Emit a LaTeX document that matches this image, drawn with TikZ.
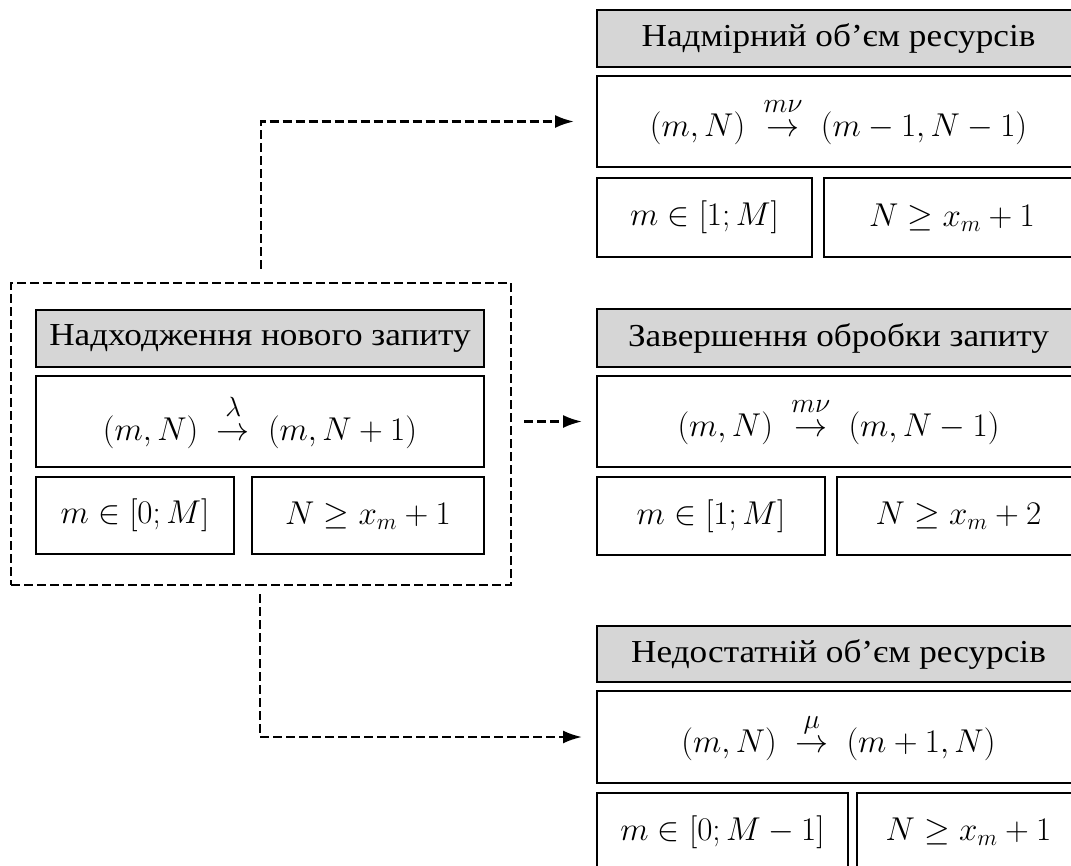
\RequirePackage{fix-cm}
\documentclass[tikz,border=0pt]{standalone}
\usepackage{amsmath}
\usepackage{graphicx}
\usepackage{fontspec}
\setmainfont{Liberation Serif}[FakeStretch=1.1]
\usetikzlibrary{arrows.meta}
\newcommand\fsz{\fontsize{32}{38}\selectfont}
\newcommand\msz{\fontsize{33}{40}\selectfont}
\newcommand\arr[1]{\;\overset{\raisebox{7pt}{\scalebox{1.2}{$\scriptstyle #1$}}}{\to}\;}
\begin{document}
\begin{tikzpicture}[x=1pt,y=-1pt,
  bx/.style={draw, line width=2pt, inner sep=0pt, align=center, font=\msz},
  ttl/.style={bx, fill=black!16, font=\fsz},
  grpbox/.style={draw, line width=2.4pt, dash pattern=on 9pt off 4pt, inner sep=0pt},
  conn/.style={line width=2.4pt, dash pattern=on 9pt off 4pt, -{Latex[length=19pt,width=13pt]}}
]
\useasboundingbox (0,0) rectangle (1071,865);
\clip (0,0) rectangle (1071,865);

% left group
\node[grpbox, minimum width=500pt, minimum height=302pt] (grp) at (261,434) {};
\node[ttl, minimum width=448pt, minimum height=57pt] (lt) at (260,338.5) {Надходження нового запиту};
\node[bx, minimum width=448pt, minimum height=91pt] (lf) at (260,421.5) {$(m,N) \arr{\lambda} (m,N+1)$};
\node[bx, minimum width=198pt, minimum height=77pt] (lc1) at (135,515.5) {$m\in[0;M]$};
\node[bx, minimum width=232pt, minimum height=77pt] (lc2) at (368,515.5) {$N\geq x_m+1$};

% top right group
\node[ttl, minimum width=483pt, minimum height=57pt] (rt1) at (838.5,38.5) {Надмірний об’єм ресурсів};
\node[bx, minimum width=483pt, minimum height=91pt] (rf1) at (838.5,121.5) {$(m,N) \arr{m\nu} (m-1,N-1)$};
\node[bx, minimum width=215pt, minimum height=79pt] (rc11) at (704.5,217.5) {$m\in[1;M]$};
\node[bx, minimum width=256pt, minimum height=79pt] (rc12) at (952,217.5) {$N\geq x_m+1$};

% middle right group
\node[ttl, minimum width=483pt, minimum height=58pt] (rt2) at (838.5,338) {Завершення обробки запиту};
\node[bx, minimum width=483pt, minimum height=91pt] (rf2) at (838.5,421.5) {$(m,N) \arr{m\nu} (m,N-1)$};
\node[bx, minimum width=228pt, minimum height=78pt] (rc21) at (711,516) {$m\in[1;M]$};
\node[bx, minimum width=243pt, minimum height=78pt] (rc22) at (958.5,516) {$N\geq x_m+2$};

% bottom right group
\node[ttl, minimum width=483pt, minimum height=56pt] (rt3) at (838.5,654) {Недостатній об’єм ресурсів};
\node[bx, minimum width=483pt, minimum height=92pt] (rf3) at (838.5,737) {$(m,N) \arr{\mu} (m+1,N)$};
\node[bx, minimum width=251pt, minimum height=78pt] (rc31) at (722.5,832) {$m\in[0;M-1]$};
\node[bx, minimum width=223pt, minimum height=78pt] (rc32) at (968.5,832) {$N\geq x_m+1$};

% connectors
\draw[conn, shorten <=13pt, shorten >=22pt] (grp.north) |- (rf1.west);
\draw[conn, shorten <=12pt, shorten >=14pt] (grp.east |- rf2.west) -- (rf2.west);
\draw[conn, shorten <=8pt, shorten >=14pt] ([xshift=-1pt]grp.south) |- (rf3.west);
\end{tikzpicture}
\end{document}
